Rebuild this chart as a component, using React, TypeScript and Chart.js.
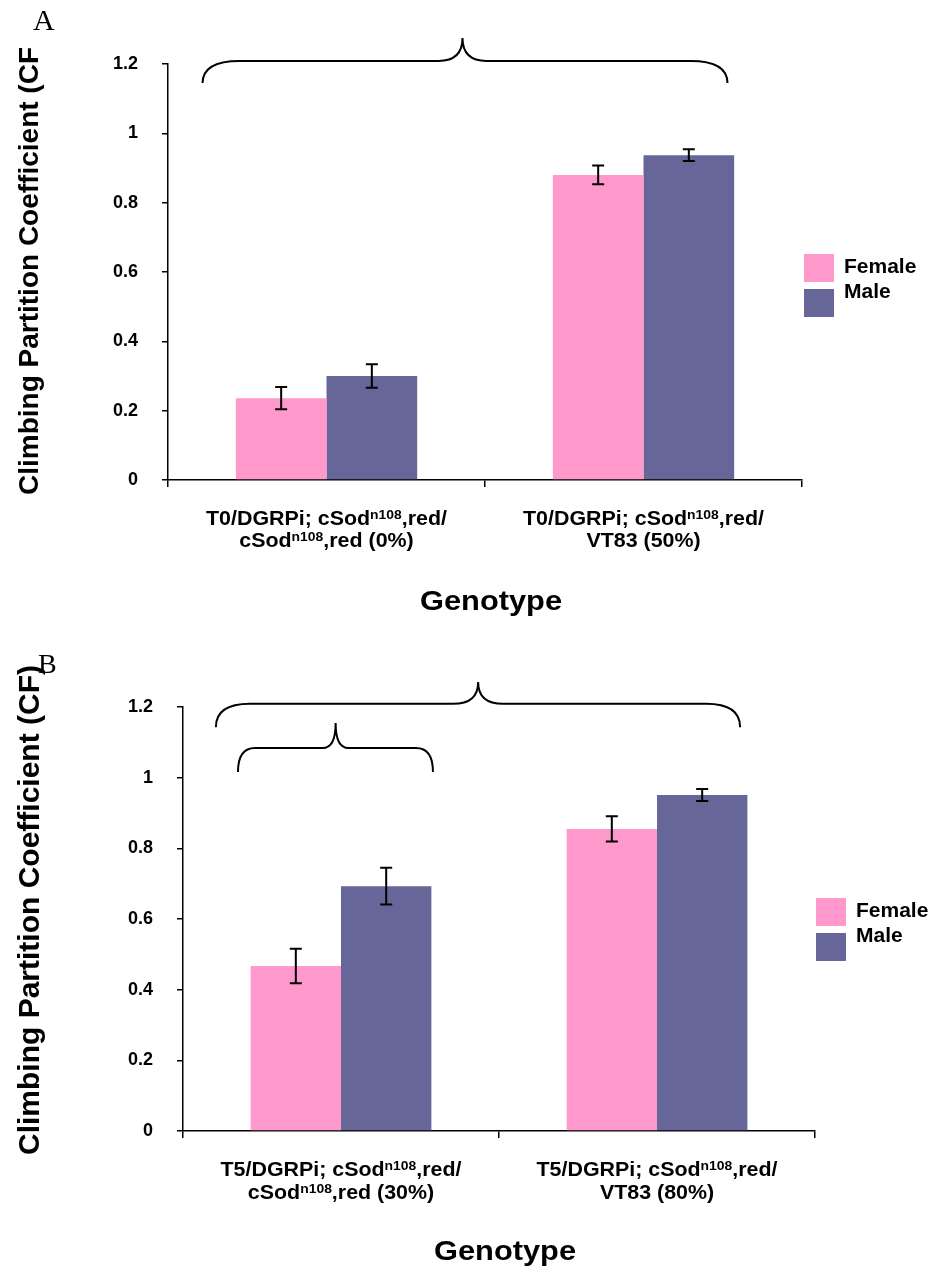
import React, { useEffect, useRef } from "react";
import { Chart, registerables } from "chart.js";

Chart.register(...registerables);

// ---------- data ----------
const SERIES_NAMES = ["Female", "Male"];
const SERIES_COLORS = ["#FF99CC", "#666699"];
const Y_MIN = 0;
const Y_MAX = 1.2;
const Y_STEP = 0.2;
const Y_TICK_LABELS = ["0", "0.2", "0.4", "0.6", "0.8", "1", "1.2"];

// category labels: "^" marks a superscript segment
const A_CATEGORIES: string[][][] = [
  [["T0/DGRPi; cSod", "^n108", ",red/"], ["cSod", "^n108", ",red (0%)"]],
  [["T0/DGRPi; cSod", "^n108", ",red/"], ["VT83 (50%)"]],
];
const A_FEMALE = [0.236, 0.88];
const A_FEMALE_ERR = [0.032, 0.027];
const A_MALE = [0.3, 0.937];
const A_MALE_ERR = [0.034, 0.017];
// braces in data units: x in category index units, y in CF units
const A_BRACES = [{ x0: -0.391, x1: 1.265, xm: 0.429, yEnd: 1.145, yLine: 1.209, yPeak: 1.275 }];

const B_CATEGORIES: string[][][] = [
  [["T5/DGRPi; cSod", "^n108", ",red/"], ["cSod", "^n108", ",red (30%)"]],
  [["T5/DGRPi; cSod", "^n108", ",red/"], ["VT83 (80%)"]],
];
const B_FEMALE = [0.467, 0.855];
const B_FEMALE_ERR = [0.049, 0.036];
const B_MALE = [0.693, 0.951];
const B_MALE_ERR = [0.052, 0.017];
const B_BRACES = [
  { x0: -0.396, x1: 1.263, xm: 0.434, yEnd: 1.143, yLine: 1.209, yPeak: 1.271 },
  { x0: -0.326, x1: 0.291, xm: -0.017, yEnd: 1.016, yLine: 1.084, yPeak: 1.155 },
];

const A_Y_TITLE = "Climbing Partition Coefficient (CF";
const B_Y_TITLE = "Climbing Partition Coefficient (CF)";
const X_TITLE = "Genotype";

// ---------- styles ----------
const SANS = "'Liberation Sans', Arial, Helvetica, sans-serif";
const SERIF = "'Liberation Serif', 'Times New Roman', serif";

type PanelCfg = {
  top: number;
  height: number;
  letter: string;
  letterX: number;
  letterY: number;
  letterSize: number;
  categories: string[][][];
  female: number[];
  femaleErr: number[];
  male: number[];
  maleErr: number[];
  braces: { x0: number; x1: number; xm: number; yEnd: number; yLine: number; yPeak: number }[];
  braceCurl: { rx: number; mx: number }[];
  yTitle: string;
  yTitleSize: number;
  yTitleX: number;
  yTitleCenter: number;
  padTop: number;
  padRight: number;
  yWidth: number;
  xHeight: number;
  catLine1: number;
  catLine2: number;
  genotypeOffset: number;
  legendDx: number;
  legendDy: number;
};

const PANEL_A: PanelCfg = {
  top: 0,
  height: 630,
  letter: "A",
  letterX: 33,
  letterY: 30,
  letterSize: 30,
  categories: A_CATEGORIES,
  female: A_FEMALE,
  femaleErr: A_FEMALE_ERR,
  male: A_MALE,
  maleErr: A_MALE_ERR,
  braces: A_BRACES,
  braceCurl: [{ rx: 37, mx: 24 }],
  yTitle: A_Y_TITLE,
  yTitleSize: 28,
  yTitleX: 38,
  yTitleCenter: 271,
  padTop: 64,
  padRight: 128,
  yWidth: 168,
  xHeight: 150,
  catLine1: 45,
  catLine2: 67,
  genotypeOffset: 130,
  legendDx: 2,
  legendDy: 190,
};

const PANEL_B: PanelCfg = {
  top: 630,
  height: 641,
  letter: "B",
  letterX: 38,
  letterY: 43,
  letterSize: 28,
  categories: B_CATEGORIES,
  female: B_FEMALE,
  femaleErr: B_FEMALE_ERR,
  male: B_MALE,
  maleErr: B_MALE_ERR,
  braces: B_BRACES,
  braceCurl: [
    { rx: 34, mx: 25 },
    { rx: 17, mx: 13 },
  ],
  yTitle: B_Y_TITLE,
  yTitleSize: 30,
  yTitleX: 39,
  yTitleCenter: 280,
  padTop: 77,
  padRight: 115,
  yWidth: 183,
  xHeight: 140,
  catLine1: 45,
  catLine2: 68,
  genotypeOffset: 129,
  legendDx: 1,
  legendDy: 191,
};

function drawSegments(
  ctx: CanvasRenderingContext2D,
  segs: string[],
  cx: number,
  baseline: number,
  size: number,
  supSize: number,
  sx: number
) {
  const main = `bold ${size}px ${SANS}`;
  const sup = `bold ${supSize}px ${SANS}`;
  const parts = segs.map((s) => {
    const isSup = s.startsWith("^");
    const text = isSup ? s.slice(1) : s;
    ctx.font = isSup ? sup : main;
    return { text, isSup, w: ctx.measureText(text).width };
  });
  const total = parts.reduce((a, p) => a + p.w, 0) * sx;
  let x = cx - total / 2;
  for (const p of parts) {
    ctx.save();
    ctx.font = p.isSup ? sup : main;
    ctx.textAlign = "left";
    ctx.textBaseline = "alphabetic";
    ctx.translate(x, p.isSup ? baseline - 6 : baseline);
    ctx.scale(sx, 1);
    ctx.fillText(p.text, 0, 0);
    ctx.restore();
    x += p.w * sx;
  }
}

function makeDecor(cfg: PanelCfg) {
  return {
    id: "decor",
    afterDatasetsDraw(chart: any) {
      const ctx: CanvasRenderingContext2D = chart.ctx;
      const ys = chart.scales.y;
      const errs = [cfg.femaleErr, cfg.maleErr];
      chart.data.datasets.forEach((ds: any, di: number) => {
        const meta = chart.getDatasetMeta(di);
        meta.data.forEach((bar: any, i: number) => {
          const v = ds.data[i];
          const e = errs[di][i];
          const x = bar.x;
          const yT = ys.getPixelForValue(v + e);
          const yB = ys.getPixelForValue(v - e);
          ctx.save();
          ctx.strokeStyle = "#000";
          ctx.lineWidth = 2;
          ctx.beginPath();
          ctx.moveTo(x, yT);
          ctx.lineTo(x, yB);
          ctx.moveTo(x - 6, yT);
          ctx.lineTo(x + 6, yT);
          ctx.moveTo(x - 6, yB);
          ctx.lineTo(x + 6, yB);
          ctx.stroke();
          ctx.restore();
        });
      });
    },
    afterDraw(chart: any) {
      const ctx: CanvasRenderingContext2D = chart.ctx;
      const xs = chart.scales.x;
      const ys = chart.scales.y;
      const area = chart.chartArea;

      // braces
      cfg.braces.forEach((b, bi) => {
        const curl = cfg.braceCurl[bi];
        const xL = xs.getPixelForValue(b.x0);
        const xR = xs.getPixelForValue(b.x1);
        const xM = xs.getPixelForValue(b.xm);
        const yE = ys.getPixelForValue(b.yEnd);
        const yL = ys.getPixelForValue(b.yLine);
        const yP = ys.getPixelForValue(b.yPeak);
        ctx.save();
        ctx.strokeStyle = "#000";
        ctx.lineWidth = 2;
        ctx.beginPath();
        ctx.moveTo(xL, yE);
        ctx.quadraticCurveTo(xL, yL, xL + curl.rx, yL);
        ctx.lineTo(xM - curl.mx, yL);
        ctx.quadraticCurveTo(xM, yL, xM, yP);
        ctx.quadraticCurveTo(xM, yL, xM + curl.mx, yL);
        ctx.lineTo(xR - curl.rx, yL);
        ctx.quadraticCurveTo(xR, yL, xR, yE);
        ctx.stroke();
        ctx.restore();
      });

      ctx.save();
      ctx.fillStyle = "#000";

      // category labels
      cfg.categories.forEach((lines, i) => {
        const cx = xs.getPixelForValue(i);
        drawSegments(ctx, lines[0], cx, area.bottom + cfg.catLine1, 20, 13, 1.07);
        if (lines[1]) drawSegments(ctx, lines[1], cx, area.bottom + cfg.catLine2, 20, 13, 1.07);
      });

      // x title
      drawSegments(
        ctx,
        [X_TITLE],
        (area.left + area.right) / 2 + 6,
        area.bottom + cfg.genotypeOffset,
        28,
        28,
        1.1
      );

      // y title
      ctx.save();
      ctx.font = `bold ${cfg.yTitleSize}px ${SANS}`;
      ctx.translate(cfg.yTitleX, cfg.yTitleCenter);
      ctx.rotate(-Math.PI / 2);
      ctx.textAlign = "center";
      ctx.textBaseline = "alphabetic";
      ctx.fillText(cfg.yTitle, 0, 0);
      ctx.restore();

      // panel letter
      ctx.font = `${cfg.letterSize}px ${SERIF}`;
      ctx.textAlign = "left";
      ctx.textBaseline = "alphabetic";
      ctx.fillText(cfg.letter, cfg.letterX, cfg.letterY);

      // legend
      const lx = area.right + cfg.legendDx;
      const ly = area.top + cfg.legendDy;
      SERIES_NAMES.forEach((name, i) => {
        ctx.fillStyle = SERIES_COLORS[i];
        ctx.fillRect(lx, ly + i * 35, 30, 28);
        ctx.fillStyle = "#000";
        ctx.font = `bold 21px ${SANS}`;
        ctx.textAlign = "left";
        ctx.fillText(name, lx + 40, ly + 19 + i * 25);
      });
      ctx.restore();
    },
  };
}

function Panel({ cfg }: { cfg: PanelCfg }) {
  const ref = useRef<HTMLCanvasElement>(null);
  useEffect(() => {
    if (!ref.current) return;
    const labels = cfg.categories.map((c) => c.map((l) => l.join("").replace("^", "")).join(" "));
    const chart = new Chart(ref.current, {
      type: "bar",
      data: {
        labels,
        datasets: [
          {
            label: SERIES_NAMES[0],
            data: cfg.female,
            backgroundColor: SERIES_COLORS[0],
            borderWidth: 0,
            categoryPercentage: 0.572,
            barPercentage: 1,
          },
          {
            label: SERIES_NAMES[1],
            data: cfg.male,
            backgroundColor: SERIES_COLORS[1],
            borderWidth: 0,
            categoryPercentage: 0.572,
            barPercentage: 1,
          },
        ],
      },
      options: {
        responsive: false,
        animation: false,
        devicePixelRatio: 1,
        layout: { padding: { left: 0, top: cfg.padTop, right: cfg.padRight, bottom: 0 } },
        plugins: { legend: { display: false }, tooltip: { enabled: false }, title: { display: false } },
        scales: {
          x: {
            type: "category",
            offset: true,
            grid: {
              offset: true,
              drawOnChartArea: false,
              drawTicks: true,
              tickLength: 7,
              color: "#000",
              lineWidth: 1.5,
            },
            border: { display: true, color: "#000", width: 1.5 },
            ticks: { display: false },
            afterFit: (s: any) => {
              s.height = cfg.xHeight;
            },
          },
          y: {
            min: Y_MIN,
            max: Y_MAX,
            grid: {
              drawOnChartArea: false,
              drawTicks: true,
              tickLength: 6,
              color: "#000",
              lineWidth: 1.5,
            },
            border: { display: true, color: "#000", width: 1.5 },
            ticks: {
              stepSize: Y_STEP,
              color: "#000",
              padding: 24,
              font: { family: SANS, size: 18, weight: "bold" },
              callback: (_v: any, i: number) => Y_TICK_LABELS[i],
            },
            afterFit: (s: any) => {
              s.width = cfg.yWidth;
            },
          },
        },
      },
      plugins: [makeDecor(cfg)],
    } as any);
    return () => chart.destroy();
  }, [cfg]);
  return (
    <canvas
      ref={ref}
      width={930}
      height={cfg.height}
      style={{ position: "absolute", left: 0, top: cfg.top, width: 930, height: cfg.height, display: "block" }}
    />
  );
}

export default function App() {
  return (
    <div style={{ position: "absolute", left: 0, top: 0, width: 930, height: 1271, background: "#fff" }}>
      <Panel cfg={PANEL_A} />
      <Panel cfg={PANEL_B} />
    </div>
  );
}
